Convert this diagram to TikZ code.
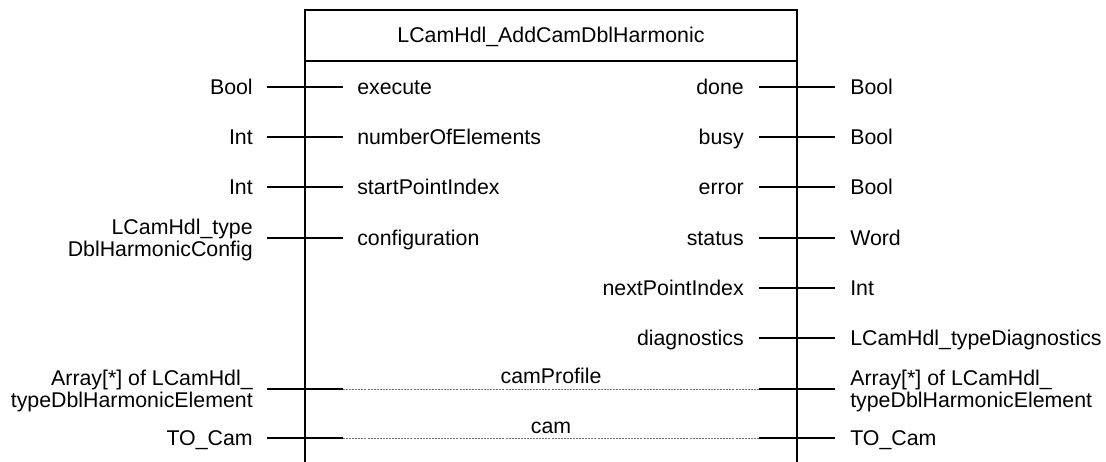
\documentclass[tikz,border=0pt]{standalone}
\usepackage{fontspec}
\setmainfont{Liberation Sans}
\begin{document}
\begin{tikzpicture}[x=0.75pt,y=-0.75pt,
  lbl/.style={font=\fontsize{16}{16.5}\selectfont, inner sep=0pt, align=right},
  lblL/.style={font=\fontsize{16}{16.5}\selectfont, inner sep=0pt, align=left},
  pin/.style={line width=1.1pt},
  frame/.style={line width=1.3pt},
  virt/.style={line width=0.5pt, draw=black!55, dash pattern=on 1.5pt off 0.8pt}]
\useasboundingbox (0,0) rectangle (1106,461);
% block frame
\coordinate (bl) at (305,462);
\coordinate (tl) at (305,10);
\coordinate (tr) at (797,10);
\coordinate (br) at (797,462);
\coordinate (sl) at (305,61);
\coordinate (sr) at (797,61);
\draw[frame] (bl) -- (tl) -- (tr) -- (br);
\draw[frame] (sl) -- (sr);
\node[lbl, anchor=base] (title) at (551,42.5) {LCamHdl\_AddCamDblHarmonic};

% inputs
\foreach \nm/\ty/\pn/\yy in {exe/Bool/execute/87, noe/Int/numberOfElements/137, spi/Int/startPointIndex/187}{
  \node[lbl, anchor=base east] (t\nm) at (253,\yy+7) {\ty};
  \node[lblL, anchor=base west] (p\nm) at (357,\yy+7) {\pn};
  \coordinate (a\nm) at (267,\yy);
  \coordinate (b\nm) at (343,\yy);
  \draw[pin] (a\nm) -- (b\nm);
}
\node[lbl, anchor=east] (tcfg) at (253,239.5) {LCamHdl\_type\\DblHarmonicConfig};
\node[lblL, anchor=base west] (pcfg) at (357,245) {configuration};
\coordinate (acfg) at (267,238);
\coordinate (bcfg) at (343,238);
\draw[pin] (acfg) -- (bcfg);

% outputs
\foreach \nm/\ty/\pn/\yy in {dn/Bool/done/87, bs/Bool/busy/137, er/Bool/error/187, st/Word/status/238, npi/Int/nextPointIndex/288, dg/LCamHdl\_typeDiagnostics/diagnostics/338}{
  \node[lbl, anchor=base east] (p\nm) at (744,\yy+7) {\pn};
  \node[lblL, anchor=base west] (t\nm) at (850,\yy+7) {\ty};
  \coordinate (c\nm) at (759,\yy);
  \coordinate (d\nm) at (835,\yy);
  \draw[pin] (c\nm) -- (d\nm);
}

% in-out parameters
\node[lbl, anchor=east] (tcpL) at (253,391) {Array[*] of LCamHdl\_\\typeDblHarmonicElement};
\node[lblL, anchor=west] (tcpR) at (850,391) {Array[*] of LCamHdl\_\\typeDblHarmonicElement};
\node[lbl, anchor=base] (pcp) at (551,383) {camProfile};
\coordinate (a1) at (267,389);
\coordinate (a2) at (343,389);
\coordinate (a3) at (759,389);
\coordinate (a4) at (835,389);
\draw[pin] (a1) -- (a2);
\draw[virt] (a2) -- (a3);
\draw[pin] (a3) -- (a4);

\node[lbl, anchor=base east] (tcmL) at (253,445) {TO\_Cam};
\node[lblL, anchor=base west] (tcmR) at (850,445) {TO\_Cam};
\node[lbl, anchor=base] (pcm) at (551,433) {cam};
\coordinate (e1) at (267,438);
\coordinate (e2) at (343,438);
\coordinate (e3) at (759,438);
\coordinate (e4) at (835,438);
\draw[pin] (e1) -- (e2);
\draw[virt] (e2) -- (e3);
\draw[pin] (e3) -- (e4);
\end{tikzpicture}
\end{document}
